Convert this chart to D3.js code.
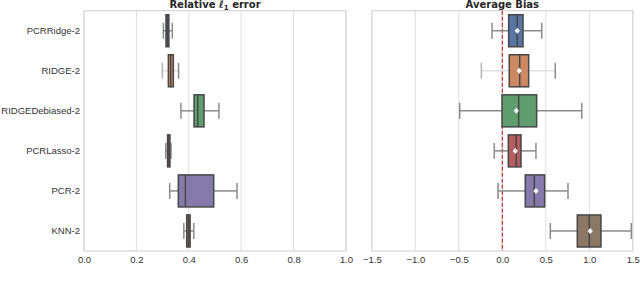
<!DOCTYPE html>
<html>
<head>
<meta charset="utf-8">
<script src="https://cdn.jsdelivr.net/npm/d3@7"></script>
<style>
  body { margin: 0; background: #fff; }
  svg { display: block; font-family: "DejaVu Sans", sans-serif; }
  .tick text { fill: #333; }
</style>
</head>
<body>
<svg width="640" height="287"></svg>
<script>
var methods = ["PCRRidge-2", "RIDGE-2", "RIDGEDebiased-2", "PCRLasso-2", "PCR-2", "KNN-2"];

// Relative l1 error (left panel)
var errLo  = [0.303, 0.299, 0.370, 0.312, 0.327, 0.381];
var errQ1  = [0.313, 0.322, 0.420, 0.319, 0.360, 0.392];
var errMed = [0.319, 0.331, 0.434, 0.324, 0.387, 0.399];
var errQ3  = [0.324, 0.341, 0.458, 0.328, 0.495, 0.405];
var errHi  = [0.337, 0.361, 0.515, 0.332, 0.584, 0.419];

// Average bias (right panel)
var biasLo   = [-0.118, -0.241, -0.490, -0.092, -0.049, 0.552];
var biasQ1   = [0.073, 0.080, -0.003, 0.069, 0.264, 0.862];
var biasMed  = [0.172, 0.200, 0.188, 0.160, 0.368, 1.000];
var biasQ3   = [0.238, 0.303, 0.395, 0.215, 0.487, 1.134];
var biasHi   = [0.453, 0.609, 0.913, 0.387, 0.755, 1.483];
var biasMean = [0.172, 0.195, 0.161, 0.149, 0.387, 1.011];

var palette = ["#5875a4", "#cc8963", "#5f9e6e", "#b55d60", "#857aab", "#8d7866"];
var whiskerColor = ["#8a8a8a", "#e0e0e0", "#8a8a8a", "#8a8a8a", "#8a8a8a", "#8a8a8a"];

var svg = d3.select("svg");
var plotTop = 10.7, plotBottom = 251;

var y = d3.scaleBand().domain(methods).range([plotTop, plotBottom]).padding(0);

function panel(x0, x1, domain, ticks, rows, title, withY, mean) {
  var x = d3.scaleLinear().domain(domain).range([x0, x1]);
  var g = svg.append("g");

  // grid
  g.selectAll("line.grid")
    .data(ticks)
    .enter().append("line")
    .attr("class", "grid")
    .attr("x1", function(d) { return x(d); })
    .attr("x2", function(d) { return x(d); })
    .attr("y1", plotTop).attr("y2", plotBottom)
    .attr("stroke", "#dedede").attr("stroke-width", 1);

  // frame
  g.append("rect")
    .attr("x", x0).attr("y", plotTop)
    .attr("width", x1 - x0).attr("height", plotBottom - plotTop)
    .attr("fill", "none").attr("stroke", "#d6d6d6").attr("stroke-width", 1.2);

  if (domain[0] < 0) {
    g.append("line")
      .attr("x1", x(0)).attr("x2", x(0))
      .attr("y1", plotTop).attr("y2", plotBottom)
      .attr("stroke", "#c0282a").attr("stroke-width", 1.2)
      .attr("stroke-dasharray", "4,2");
  }

  var bw = y.bandwidth() * 0.8;
  var capH = bw * 0.5;
  var mid = function(d) { return y(d) + y.bandwidth() / 2; };

  var box = g.selectAll("g.box")
    .data(methods)
    .enter().append("g")
    .attr("class", "box");

  box.append("line")
    .attr("x1", function(d, i) { return x(rows.lo[i]); })
    .attr("x2", function(d, i) { return x(rows.q1[i]); })
    .attr("y1", mid).attr("y2", mid)
    .attr("stroke", function(d, i) { return whiskerColor[i]; })
    .attr("stroke-width", 1.5);
  box.append("line")
    .attr("x1", function(d, i) { return x(rows.q3[i]); })
    .attr("x2", function(d, i) { return x(rows.hi[i]); })
    .attr("y1", mid).attr("y2", mid)
    .attr("stroke", function(d, i) { return whiskerColor[i]; })
    .attr("stroke-width", 1.5);

  ["lo", "hi"].forEach(function(k) {
    box.append("line")
      .attr("x1", function(d, i) { return x(rows[k][i]); })
      .attr("x2", function(d, i) { return x(rows[k][i]); })
      .attr("y1", function(d) { return mid(d) - capH / 2; })
      .attr("y2", function(d) { return mid(d) + capH / 2; })
      .attr("stroke", function(d, i) { return i == 1 && k == "lo" ? "#b5b5b5" : "#8a8a8a"; })
      .attr("stroke-width", 1.5);
  });

  box.append("rect")
    .attr("x", function(d, i) { return x(rows.q1[i]); })
    .attr("width", function(d, i) { return x(rows.q3[i]) - x(rows.q1[i]); })
    .attr("y", function(d) { return y(d) + (y.bandwidth() - bw) / 2; })
    .attr("height", bw)
    .attr("fill", function(d, i) { return palette[i]; })
    .attr("stroke", "#474747").attr("stroke-width", 1.5);

  box.append("line")
    .attr("x1", function(d, i) { return x(rows.med[i]); })
    .attr("x2", function(d, i) { return x(rows.med[i]); })
    .attr("y1", function(d) { return y(d) + (y.bandwidth() - bw) / 2; })
    .attr("y2", function(d) { return y(d) + (y.bandwidth() + bw) / 2; })
    .attr("stroke", "#474747").attr("stroke-width", 1.5);

  if (mean) {
    box.append("path")
      .attr("d", "M0,-3L2.6,0L0,3L-2.6,0Z")
      .attr("transform", function(d, i) {
        return "translate(" + x(mean[i]) + "," + mid(d) + ")";
      })
      .attr("fill", "#fff");
  }

  var xa = g.append("g")
    .attr("transform", "translate(0," + plotBottom + ")")
    .call(d3.axisBottom(x).tickValues(ticks).tickSize(0).tickPadding(5).tickFormat(d3.format(".1f")));
  xa.select(".domain").remove();
  xa.selectAll("text").attr("font-size", 9.5);

  if (withY) {
    var ya = g.append("g")
      .attr("transform", "translate(" + x0 + ",0)")
      .call(d3.axisLeft(y).tickSize(0).tickPadding(4));
    ya.select(".domain").remove();
    ya.selectAll("text").attr("font-size", 9.5);
  }

  var t = svg.append("text")
    .attr("x", (x0 + x1) / 2).attr("y", 7.5)
    .attr("text-anchor", "middle")
    .attr("font-size", 10).attr("font-weight", "bold").attr("fill", "#262626");
  title(t);
}

panel(84, 346, [0, 1], [0, 0.2, 0.4, 0.6, 0.8, 1.0],
  { lo: errLo, q1: errQ1, med: errMed, q3: errQ3, hi: errHi },
  function(t) {
    t.append("tspan").text("Relative ");
    t.append("tspan").attr("font-style", "italic").text("\u2113");
    t.append("tspan").attr("font-size", 7).attr("dy", 2).text("1");
    t.append("tspan").attr("dy", -2).text(" error");
  }, true, null);

panel(371.8, 632.8, [-1.5, 1.5], [-1.5, -1.0, -0.5, 0.0, 0.5, 1.0, 1.5],
  { lo: biasLo, q1: biasQ1, med: biasMed, q3: biasQ3, hi: biasHi },
  function(t) { t.text("Average Bias"); }, false, biasMean);
</script>
</body>
</html>
